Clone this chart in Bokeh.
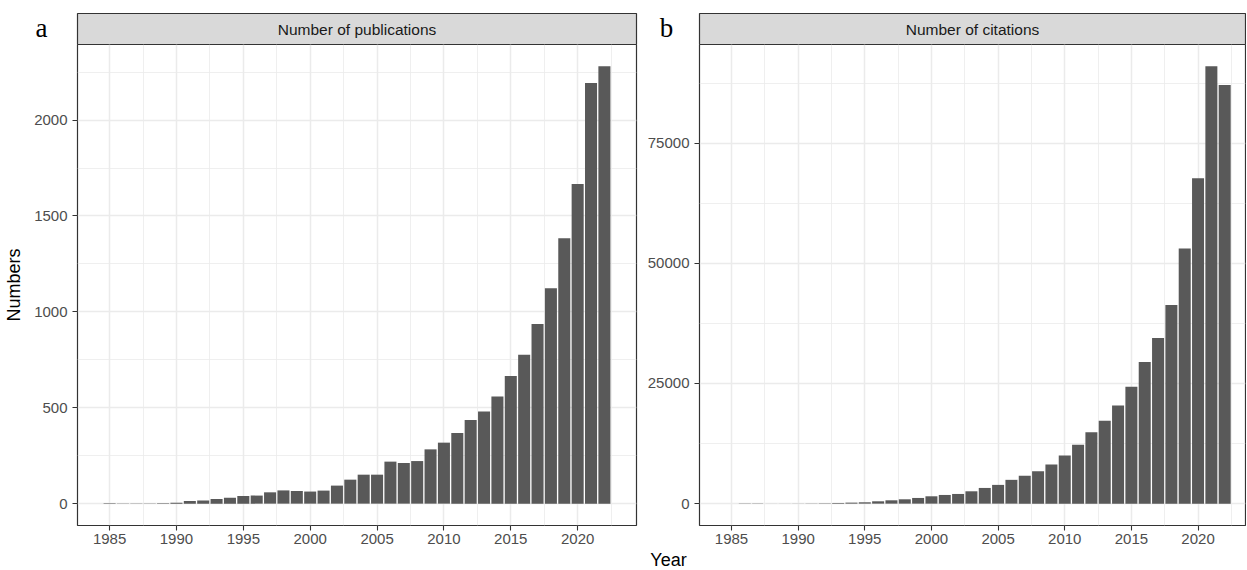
from bokeh.plotting import figure
from bokeh.models import FixedTicker, Range1d, NumeralTickFormatter
from bokeh.layouts import row, column
from bokeh.embed import file_html
from bokeh.resources import INLINE
from bokeh.core.properties import value

# ---------------- data ----------------
years = list(range(1985, 2023))
publications = [2, 1, 1, 1, 2, 4, 14, 17, 24, 31,
                40, 42, 59, 69, 66, 63, 68, 94, 125, 151,
                151, 219, 212, 222, 283, 318, 368, 436, 481, 559,
                665, 776, 936, 1123, 1384, 1667, 2193, 2280]
citations = [2, 3, 5, 8, 10, 20, 40, 69, 139, 208,
             278, 486, 694, 903, 1181, 1528, 1806, 2014, 2569, 3264,
             3900, 4950, 5800, 6750, 8125, 10000, 12229, 14875, 17229, 20417,
             24312, 29458, 34458, 41333, 53063, 67708, 90979, 87083]
x_ticks = [1985, 1990, 1995, 2000, 2005, 2010, 2015, 2020]
x_minor = [1982.5, 1987.5, 1992.5, 1997.5, 2002.5, 2007.5, 2012.5, 2017.5, 2022.5]
pub_ticks = [0, 500, 1000, 1500, 2000]
pub_minor = [250, 750, 1250, 1750, 2250]
cit_ticks = [0, 25000, 50000, 75000]
cit_minor = [12500, 37500, 62500, 87500]
strip_titles = ["Number of publications", "Number of citations"]
panel_tags = ["a", "b"]
y_title = "Numbers"
x_title = "Year"

FONT = "Liberation Sans"
SERIF = "Liberation Serif"
TOTAL_W = 1246
HEAD_H, STRIP_TOP = 44, 13
PANEL_H, BOTTOM = 481, 23
FOOT_H = 20

# panel geometry: (left border, frame width, right border, x0, x1)
GEO_A = (77, 559, 4, 1982.6, 2024.4)
GEO_B = (59, 546, 1, 1982.6, 2023.56)
WA = GEO_A[0] + GEO_A[1] + GEO_A[2]


def style_blank(p):
    p.outline_line_color = None
    p.background_fill_color = "white"
    p.border_fill_color = "white"
    p.xgrid.visible = False
    p.ygrid.visible = False


def make_panel(vals, yticks, yminor, geo, ylabel=None):
    left, frame_w, right, x0, x1 = geo
    vmax = max(vals)
    ylo, yhi = -0.05 * vmax, 1.05 * vmax
    p = figure(frame_width=frame_w, frame_height=PANEL_H,
               min_border_left=left, min_border_right=right,
               min_border_top=0, min_border_bottom=BOTTOM,
               x_range=Range1d(x0, x1), y_range=Range1d(ylo, yhi),
               output_backend="svg", toolbar_location=None)
    p.background_fill_color = "white"
    p.border_fill_color = "white"
    p.vbar(x=years, top=vals, bottom=0, width=0.9,
           fill_color="#595959", line_color=None)
    p.outline_line_color = "#333333"
    p.outline_line_width = 1.2

    p.xaxis.ticker = FixedTicker(ticks=x_ticks, minor_ticks=x_minor)
    p.yaxis.ticker = FixedTicker(ticks=yticks, minor_ticks=yminor)
    p.yaxis.formatter = NumeralTickFormatter(format="0")
    for ax in (p.xaxis, p.yaxis):
        ax.axis_line_color = None
        ax.major_tick_line_color = "#333333"
        ax.major_tick_line_width = 1.1
        ax.major_tick_out = 5
        ax.major_tick_in = 0
        ax.minor_tick_line_color = None
        ax.major_label_text_font = FONT
        ax.major_label_text_font_size = "15px"
        ax.major_label_text_color = "#4D4D4D"
        ax.major_label_standoff = 3
    p.yaxis.major_label_standoff = 5
    if ylabel:
        p.yaxis.axis_label = ylabel
        p.yaxis.axis_label_text_font = FONT
        p.yaxis.axis_label_text_font_size = "18px"
        p.yaxis.axis_label_text_font_style = "normal"
        p.yaxis.axis_label_text_color = "black"
        p.yaxis.axis_label_standoff = 7
    for g in (p.xgrid, p.ygrid):
        g.grid_line_color = "#EBEBEB"
        g.grid_line_width = 1.5
        g.minor_grid_line_color = "#EBEBEB"
        g.minor_grid_line_width = 0.8
    return p


pa = make_panel(publications, pub_ticks, pub_minor, GEO_A, y_title)
pb = make_panel(citations, cit_ticks, cit_minor, GEO_B)

# ---- header strip row (strip boxes + panel tags) ----
head = figure(width=TOTAL_W, height=HEAD_H, min_border=0,
              x_range=Range1d(0, TOTAL_W), y_range=Range1d(HEAD_H, 0),
              x_axis_type=None, y_axis_type=None,
              output_backend="svg", toolbar_location=None)
style_blank(head)
strip_l = [GEO_A[0], WA + GEO_B[0]]
strip_r = [GEO_A[0] + GEO_A[1], WA + GEO_B[0] + GEO_B[1]]
head.quad(left=strip_l, right=strip_r, top=[STRIP_TOP] * 2, bottom=[HEAD_H] * 2,
          fill_color="#D9D9D9", line_color="#333333", line_width=1.2)
head.text(x=[(l + r) / 2 for l, r in zip(strip_l, strip_r)],
          y=[(STRIP_TOP + HEAD_H) / 2 + 0.5] * 2, text=strip_titles,
          text_align="center", text_baseline="middle",
          text_font=value(FONT), text_font_size="15.5px", text_color="#1A1A1A")
head.text(x=[41, WA + 26], y=[27, 27], text=panel_tags,
          text_align="center", text_baseline="middle",
          text_font=value(SERIF), text_font_size="27px", text_color="black")

# ---- footer with shared x title ----
foot = figure(width=TOTAL_W, height=FOOT_H, min_border=0,
              x_range=Range1d(0, TOTAL_W), y_range=Range1d(FOOT_H, 0),
              x_axis_type=None, y_axis_type=None,
              output_backend="svg", toolbar_location=None)
style_blank(foot)
foot.text(x=[668], y=[FOOT_H / 2 + 1], text=[x_title],
          text_align="center", text_baseline="middle",
          text_font=value(FONT), text_font_size="18px", text_color="black")

layout = column(head, row(pa, pb), foot)
open("out.html", "w").write(file_html(layout, INLINE))
